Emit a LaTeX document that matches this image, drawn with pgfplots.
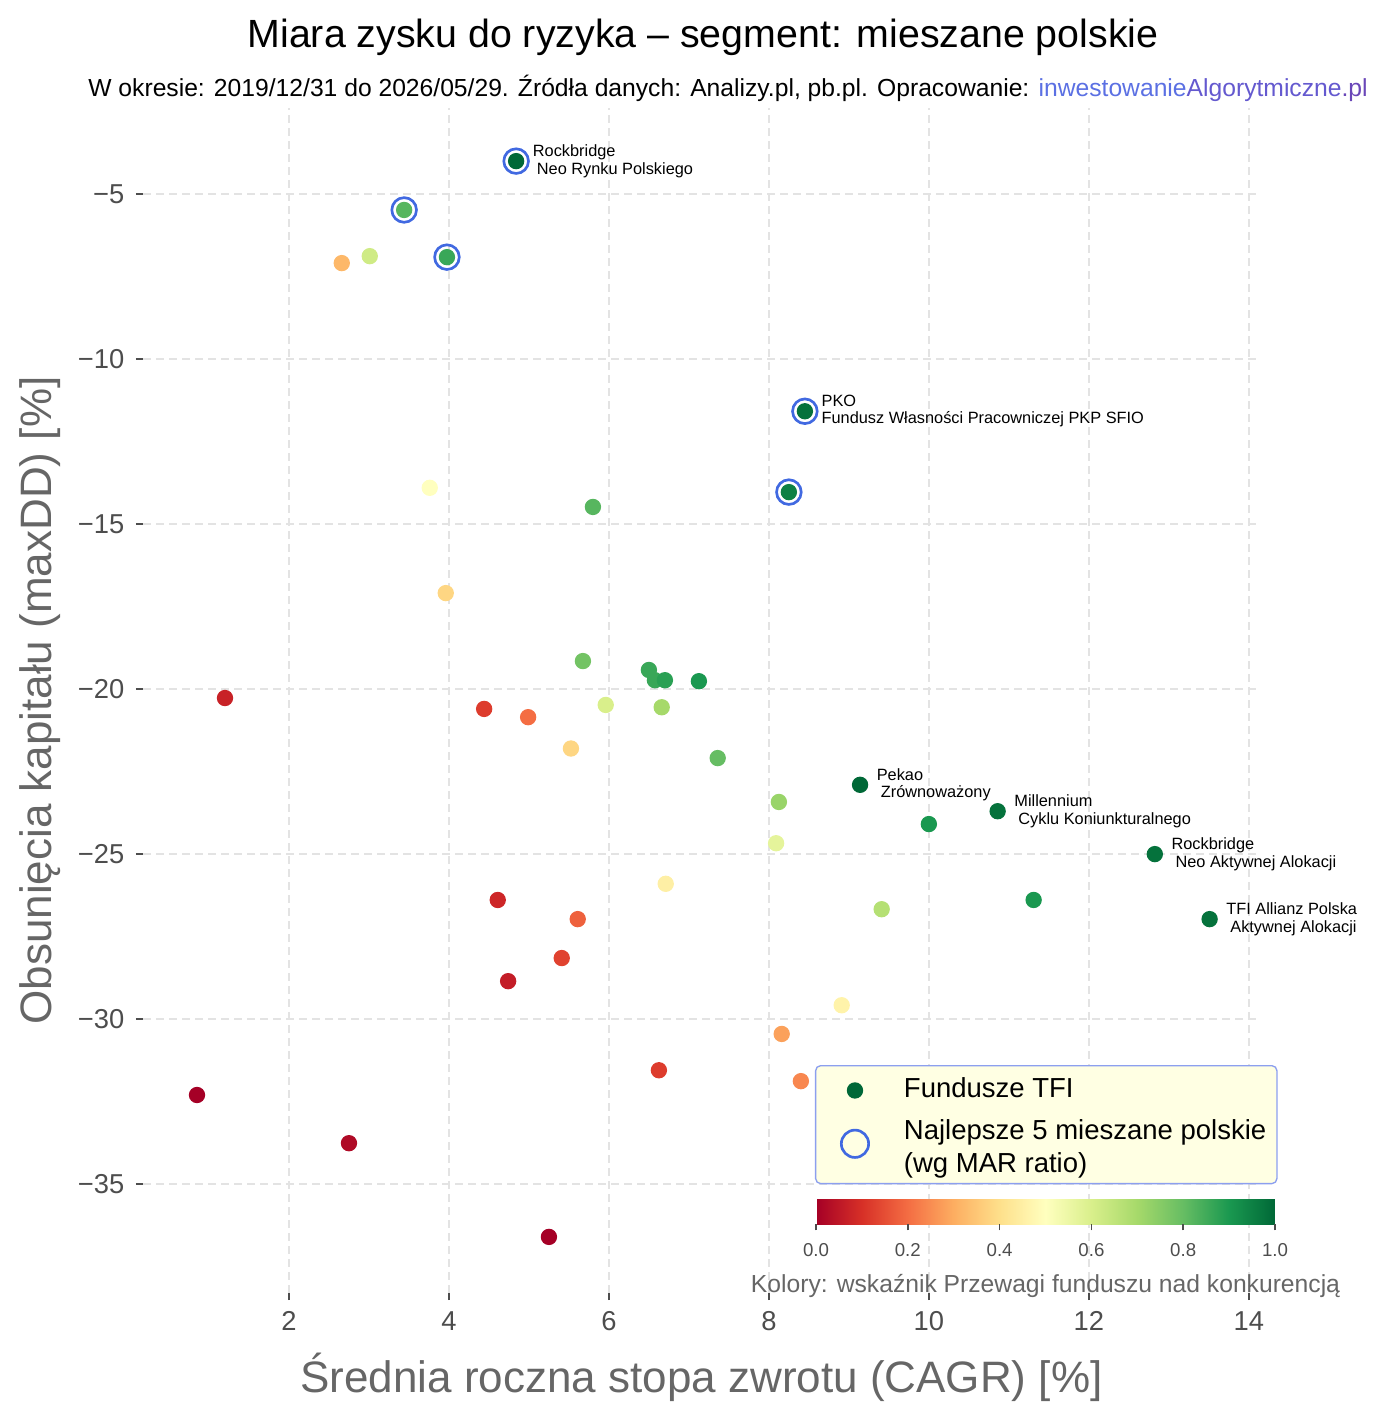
\documentclass[border=0pt]{standalone}
\usepackage{fontspec}
\setmainfont{Liberation Sans}
\usepackage{pgfplots}
\pgfplotsset{compat=1.18}
\usetikzlibrary{calc}

\definecolor{tickgray}{HTML}{4D4D4D}
\definecolor{labgray}{HTML}{666666}
\definecolor{gridgray}{HTML}{E3E3E3}
\definecolor{ringblue}{HTML}{4169E1}
\definecolor{darkg}{HTML}{006837}
\definecolor{legfill}{HTML}{FFFFE3}
\definecolor{legdraw}{HTML}{8C9FEF}
\definecolor{linkA}{HTML}{5B70E3}
\definecolor{linkB}{HTML}{6459CF}
\definecolor{linkC}{HTML}{6A47B8}

\pgfplotsset{colormap={RdYlGn}{HTML=(A50026) HTML=(D73027) HTML=(F46D43) HTML=(FDAE61) HTML=(FEE08B) HTML=(FFFFBF) HTML=(D9EF8B) HTML=(A6D96A) HTML=(66BD63) HTML=(1A9850) HTML=(006837)}}

\pgfplotstableread{
x y c
4.84 -4.00 1.00
3.44 -5.48 0.82
3.975 -6.91 0.86
2.66 -7.09 0.32
3.01 -6.88 0.62
8.45 -11.58 0.98
8.25 -14.03 0.95
3.76 -13.90 0.50
5.80 -14.48 0.82
3.96 -17.09 0.38
5.675 -19.15 0.78
6.50 -19.42 0.86
6.575 -19.73 0.86
6.70 -19.73 0.88
7.125 -19.76 0.90
1.20 -20.27 0.07
4.44 -20.60 0.12
4.99 -20.85 0.20
5.96 -20.48 0.60
6.66 -20.55 0.70
5.525 -21.80 0.38
7.36 -22.09 0.80
9.14 -22.90 1.00
8.125 -23.42 0.72
10.00 -24.09 0.90
10.86 -23.70 0.98
8.09 -24.67 0.57
12.825 -25.00 0.98
11.31 -26.39 0.90
6.71 -25.90 0.45
9.41 -26.67 0.67
13.51 -26.97 0.98
4.61 -26.39 0.08
5.61 -26.97 0.18
5.41 -28.15 0.13
4.74 -28.85 0.06
8.91 -29.58 0.46
8.16 -30.45 0.28
6.625 -31.55 0.12
8.40 -31.88 0.24
0.85 -32.30 0.00
2.75 -33.76 0.02
5.25 -36.60 0.00
}\funds

\begin{document}
\begin{tikzpicture}
\begin{scope}[x=0.3pt,y=-0.3pt]
\path (0,0) rectangle (1388,1419);
\node[font=\fontsize{11.8}{13}\selectfont] at (703,37) {Miara zysku do ryzyka – segment: mieszane polskie};
\node[font=\fontsize{7.4}{9}\selectfont] at (728,88) {W okresie: 2019/12/31 do 2026/05/29. Źródła danych: Analizy.pl, pb.pl. Opracowanie: \textcolor{linkA}{inwestowanie}\textcolor{linkB}{Algorytmiczne}\textcolor{linkC}{.pl}};
\end{scope}
\begin{axis}[
  at={(42.9pt,-387.9pt)}, anchor=south west,
  scale only axis, width=335.1pt, height=355.5pt,
  xmin=0.175, xmax=14.14, ymin=-38.3, ymax=-2.39,
  clip=false,
  axis line style={draw=none},
  xtick={2,4,6,8,10,12,14}, xticklabels={2,4,6,8,10,12,14},
  ytick={-35,-30,-25,-20,-15,-10,-5},
  yticklabels={−35,−30,−25,−20,−15,−10,−5},
  tick align=outside, major tick length=2.1pt,
  tick style={color=tickgray, line width=0.45pt},
  xtick pos=left, ytick pos=left,
  ticklabel style={font=\fontsize{8.2}{9}\selectfont, text=tickgray},
  grid=major, grid style={gridgray, dash pattern=on 2.4pt off 1.5pt, line width=0.45pt},
  xlabel={Średnia roczna stopa zwrotu (CAGR) [\%]},
  ylabel={Obsunięcia kapitału (maxDD) [\%]},
  label style={font=\fontsize{13.2}{15}\selectfont, text=labgray},
  xlabel style={at={(axis description cs:0.5,-0.0709)}, anchor=center},
  ylabel style={at={(axis description cs:-0.0922,0.5)}, anchor=center},
  colormap name=RdYlGn,
  point meta min=0, point meta max=1,
  colorbar horizontal,
  colorbar style={
    at={($(parent axis.south west)+(201.9pt,29.1pt)$)}, anchor=south west,
    scale only axis, width=137.7pt, height=7.5pt,
    axis line style={draw=none},
    xtick={0,0.2,0.4,0.6,0.8,1}, xticklabels={0.0,0.2,0.4,0.6,0.8,1.0},
    xtick pos=left, xticklabel pos=left,
    tick align=outside, major tick length=1.8pt,
    tick style={color=tickgray, line width=0.45pt},
    xticklabel style={font=\fontsize{5.6}{6}\selectfont, text=tickgray, yshift=-0.3pt},
    xlabel={Kolory: wskaźnik Przewagi funduszu nad konkurencją},
    xlabel style={font=\fontsize{7.4}{8}\selectfont, text=labgray, at={(axis description cs:0.5,0)}, anchor=center, yshift=-18.6pt},
  },
  legend style={at={(0.6016,0.1924)}, anchor=north west, fill=legfill, draw=legdraw,
    rounded corners=1.5pt, line width=0.4pt, font=\fontsize{8.25}{10}\selectfont,
    inner xsep=1.2pt, inner ysep=1.7pt, row sep=0pt},
  legend cell align=left,
  legend image code/.code={\path (0pt,0pt) (22.5pt,0pt); \draw[#1] plot coordinates {(10.2pt,0pt)};},
]
\addplot[scatter, only marks, mark=*, mark size=2.25pt, scatter src=explicit,
  scatter/use mapped color={draw=mapped color, fill=mapped color}, forget plot]
  table[x=x, y=y, meta=c] {\funds};
\addplot[only marks, mark=o, mark size=3.7pt, color=ringblue, line width=0.8pt, forget plot]
  coordinates {(4.84,-4.0) (3.44,-5.48) (3.975,-6.91) (8.45,-11.58) (8.25,-14.03)};
\addlegendimage{only marks, mark=*, mark size=2.25pt, color=darkg}
\addlegendentry{Fundusze TFI}
\addlegendimage{only marks, mark=o, mark size=4.1pt, line width=0.8pt, color=ringblue}
\addlegendentry{\begin{tabular}{@{}l@{}}Najlepsze 5 mieszane polskie\\(wg MAR ratio)\\[-4pt]\mbox{}\end{tabular}}

\begin{scope}[every node/.style={anchor=west, font=\fontsize{4.9}{5.2}\selectfont, align=left, xshift=1.5pt}]
\node at (axis cs:4.84,-4.0) {Rockbridge\\\hspace*{1.2pt}Neo Rynku Polskiego};
\node at (axis cs:8.45,-11.58) {PKO\\Fundusz Własności Pracowniczej PKP SFIO};
\node at (axis cs:9.14,-22.9) {Pekao\\\hspace*{1.2pt}Zrównoważony};
\node at (axis cs:10.86,-23.7) {Millennium\\\hspace*{1.2pt}Cyklu Koniunkturalnego};
\node at (axis cs:12.825,-25.0) {Rockbridge\\\hspace*{1.2pt}Neo Aktywnej Alokacji};
\node at (axis cs:13.51,-26.97) {TFI Allianz Polska\\\hspace*{1.2pt}Aktywnej Alokacji};
\end{scope}
\end{axis}
\end{tikzpicture}
\end{document}
